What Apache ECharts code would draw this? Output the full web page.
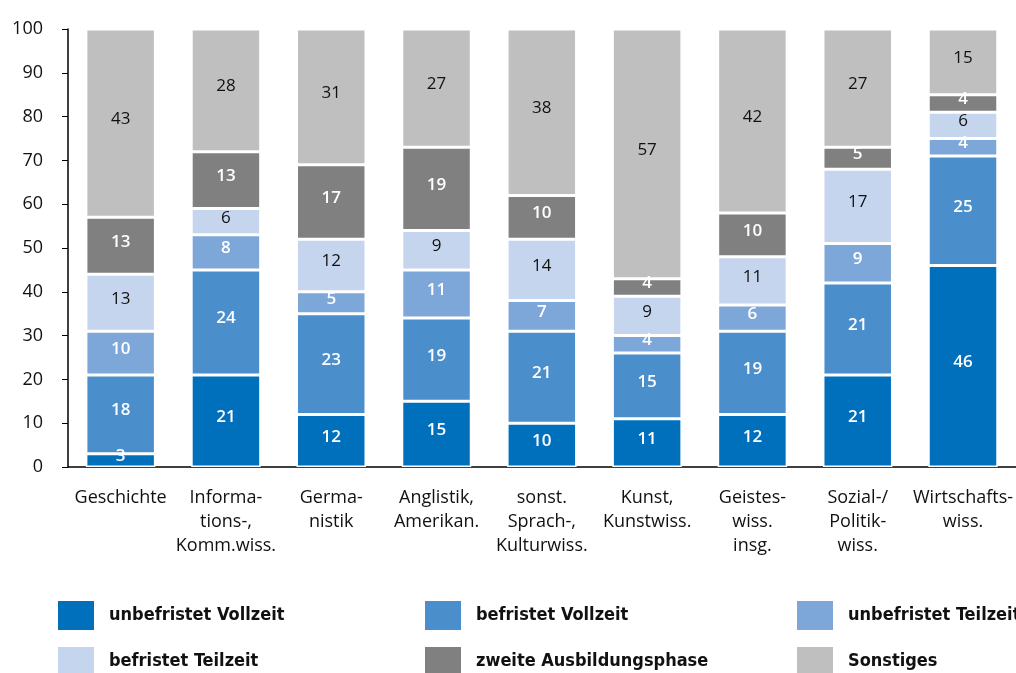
<!DOCTYPE html>
<html>
    <head>
        <meta charset="utf-8">
        <style>
            html, body { margin: 0; padding: 0; background: #fff; }
        </style>
    </head>
    <body>
        <div id="main" style="width:1016px;height:673px"></div>
        <script src="https://cdn.jsdelivr.net/npm/echarts@6/dist/echarts.min.js"></script>
        <script type="text/javascript">
            var categories = [
                'Geschichte', 'Informa-\ntions-,\nKomm.wiss.', 'Germa-\nnistik',
                'Anglistik,\nAmerikan.', 'sonst.\nSprach-,\nKulturwiss.', 'Kunst,\nKunstwiss.',
                'Geistes-\nwiss.\ninsg.', 'Sozial-/\nPolitik-\nwiss.', 'Wirtschafts-\nwiss.'
            ]
            var unbefristetVollzeit = [3, 21, 12, 15, 10, 11, 12, 21, 46]
            var befristetVollzeit = [18, 24, 23, 19, 21, 15, 19, 21, 25]
            var unbefristetTeilzeit = [10, 8, 5, 11, 7, 4, 6, 9, 4]
            var befristetTeilzeit = [13, 6, 12, 9, 14, 9, 11, 17, 6]
            var zweiteAusbildung = [13, 13, 17, 19, 10, 4, 10, 5, 4]
            var sonstiges = [43, 28, 31, 27, 38, 57, 42, 27, 15]
            var yTicks = [0, 10, 20, 30, 40, 50, 60, 70, 80, 90, 100]

            var font = "'Open Sans', sans-serif"
            var legendFont = "'DejaVu Sans Condensed', 'DejaVu Sans', sans-serif"

            function makeSeries(name, data, color, dark) {
                return {
                    name: name,
                    type: 'bar',
                    stack: 'total',
                    barWidth: '66%',
                    data: data,
                    itemStyle: { color: color, borderColor: '#fff', borderWidth: 1.5 },
                    label: {
                        show: true,
                        position: 'inside',
                        offset: [0, -4],
                        fontFamily: font,
                        fontSize: 17,
                        color: dark ? '#fff' : '#111',
                        fontWeight: dark ? 600 : 'normal'
                    }
                }
            }

            var series = [
                makeSeries('unbefristet Vollzeit', unbefristetVollzeit, '#0070BC', true),
                makeSeries('befristet Vollzeit', befristetVollzeit, '#4A8ECC', true),
                makeSeries('unbefristet Teilzeit', unbefristetTeilzeit, '#7EA7D9', true),
                makeSeries('befristet Teilzeit', befristetTeilzeit, '#C6D5EE', false),
                makeSeries('zweite Ausbildungsphase', zweiteAusbildung, '#808080', true),
                makeSeries('Sonstiges', sonstiges, '#BFBFBF', false)
            ]

            // one legend per item so the 3x2 grid lines up like the original
            function legendItem(left, top, name) {
                return {
                    left: left,
                    top: top,
                    padding: 0,
                    itemWidth: 38,
                    itemHeight: 31,
                    icon: 'rect',
                    selectedMode: false,
                    data: [name],
                    textStyle: {
                        fontFamily: legendFont,
                        fontWeight: 'bold',
                        fontSize: 18,
                        color: '#111',
                        padding: [0, 0, 0, 9]
                    }
                }
            }

            var option = {
                animation: false,
                grid: { left: 68, right: 0, top: 29, bottom: 206 },
                legend: [
                    legendItem(56, 599, 'unbefristet Vollzeit'),
                    legendItem(423, 599, 'befristet Vollzeit'),
                    legendItem(795, 599, 'unbefristet Teilzeit'),
                    legendItem(56, 645, 'befristet Teilzeit'),
                    legendItem(423, 645, 'zweite Ausbildungsphase'),
                    legendItem(795, 645, 'Sonstiges')
                ],
                xAxis: {
                    type: 'category',
                    data: categories,
                    axisLine: { lineStyle: { color: '#000', width: 1.5 } },
                    axisTick: { show: false },
                    axisLabel: {
                        interval: 0,
                        margin: 19,
                        lineHeight: 24,
                        fontFamily: font,
                        fontSize: 18,
                        color: '#111'
                    }
                },
                yAxis: {
                    type: 'value',
                    min: yTicks[0],
                    max: yTicks[yTicks.length - 1],
                    interval: 10,
                    splitLine: { show: false },
                    axisLine: { show: true, lineStyle: { color: '#000', width: 1.5 } },
                    axisTick: { show: true, length: 6, lineStyle: { color: '#000' } },
                    axisLabel: {
                        margin: 25,
                        fontFamily: font,
                        fontSize: 18,
                        color: '#111'
                    }
                },
                series: series
            }

            var mycharts = echarts.init(document.getElementById('main'))
            mycharts.setOption(option)
        </script>
    </body>
</html>
